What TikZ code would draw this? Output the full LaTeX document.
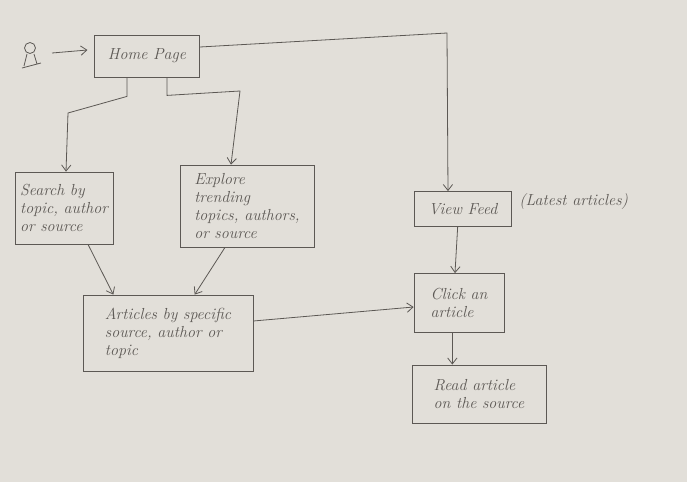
\documentclass[tikz,border=0pt]{standalone}
\usepackage{xcolor}
\usepackage{tikz}
\usetikzlibrary{arrows.meta}
\definecolor{paper}{RGB}{226,223,217}
\definecolor{pencil}{RGB}{92,88,84}

\begin{document}
\begin{tikzpicture}[x=0.75pt,y=0.75pt,yscale=-1,xscale=1,
  every node/.style={text=pencil,font=\fontsize{12}{13.5}\selectfont\itshape},
  box/.style={draw=pencil,line width=0.6pt,inner sep=0.75pt,align=left},
  link/.style={draw=pencil,line width=0.6pt,-{Straight Barb[length=4.5pt,width=7pt]}}]
\fill[paper] (0,0) rectangle (687,482);
\useasboundingbox (0,0) rectangle (687,482);

% User figure
\draw[pencil,line width=0.6pt] (30,48) circle (5.5);
\draw[pencil,line width=0.6pt] (27,54) -- (24,66) (34,54) -- (37,64) (22,68) -- (41,63);
\coordinate (user) at (52,53);

% Text Node
\node[box,minimum width=78.75pt,minimum height=31.5pt] (home) at (147,56) {Home Page};
% Text Node
\node[box,minimum width=73.5pt,minimum height=54pt] (search) at (64,208) {Search by\\topic, author\\or source};
% Text Node
\node[box,minimum width=100.5pt,minimum height=61.5pt] (explore) at (247,206) {Explore\\trending\\topics, authors,\\or source};
% Text Node
\node[box,minimum width=127.5pt,minimum height=57pt] (articles) at (168,333) {Articles by specific\\source, author or\\topic};
% Text Node
\node[box,minimum width=72.75pt,minimum height=26.25pt] (feed) at (463,209) {View Feed};
\node[anchor=west,inner sep=0.75pt] (latest) at (518,202) {(Latest articles)};
% Text Node
\node[box,minimum width=67.5pt,minimum height=44.25pt] (click) at (459,303) {Click an\\article};
% Text Node
\node[box,minimum width=100.5pt,minimum height=43.5pt] (read) at (479,394) {Read article\\on the source};

% Connectors
\draw[link] (user) -- ([xshift=-5pt,yshift=-4.5pt]home.west);
\draw[link] ([xshift=-15pt]home.south) -- ++(0,19) -- (68,113) -- (search.north -| 66,0);
\draw[link] ([xshift=15pt]home.south) -- ++(0,18) -- (240,91) -- (explore.north -| 231,0);
\draw[link] ([yshift=-6.75pt]home.east) -- (447,33) -- (feed.north -| 448,0);
\draw[link] ([xshift=18pt]search.south) -- ([xshift=-41pt]articles.north);
\draw[link] ([xshift=-16.5pt]explore.south) -- ([xshift=20pt]articles.north);
\draw[link] ([yshift=-9pt]articles.east) -- ([yshift=3pt]click.west);
\draw[link] ([xshift=-4pt]feed.south) -- ([xshift=-3pt]click.north);
\draw[link] ([xshift=-5pt]click.south) -- ([xshift=-5pt]click.south |- read.north);

\end{tikzpicture}
\end{document}
